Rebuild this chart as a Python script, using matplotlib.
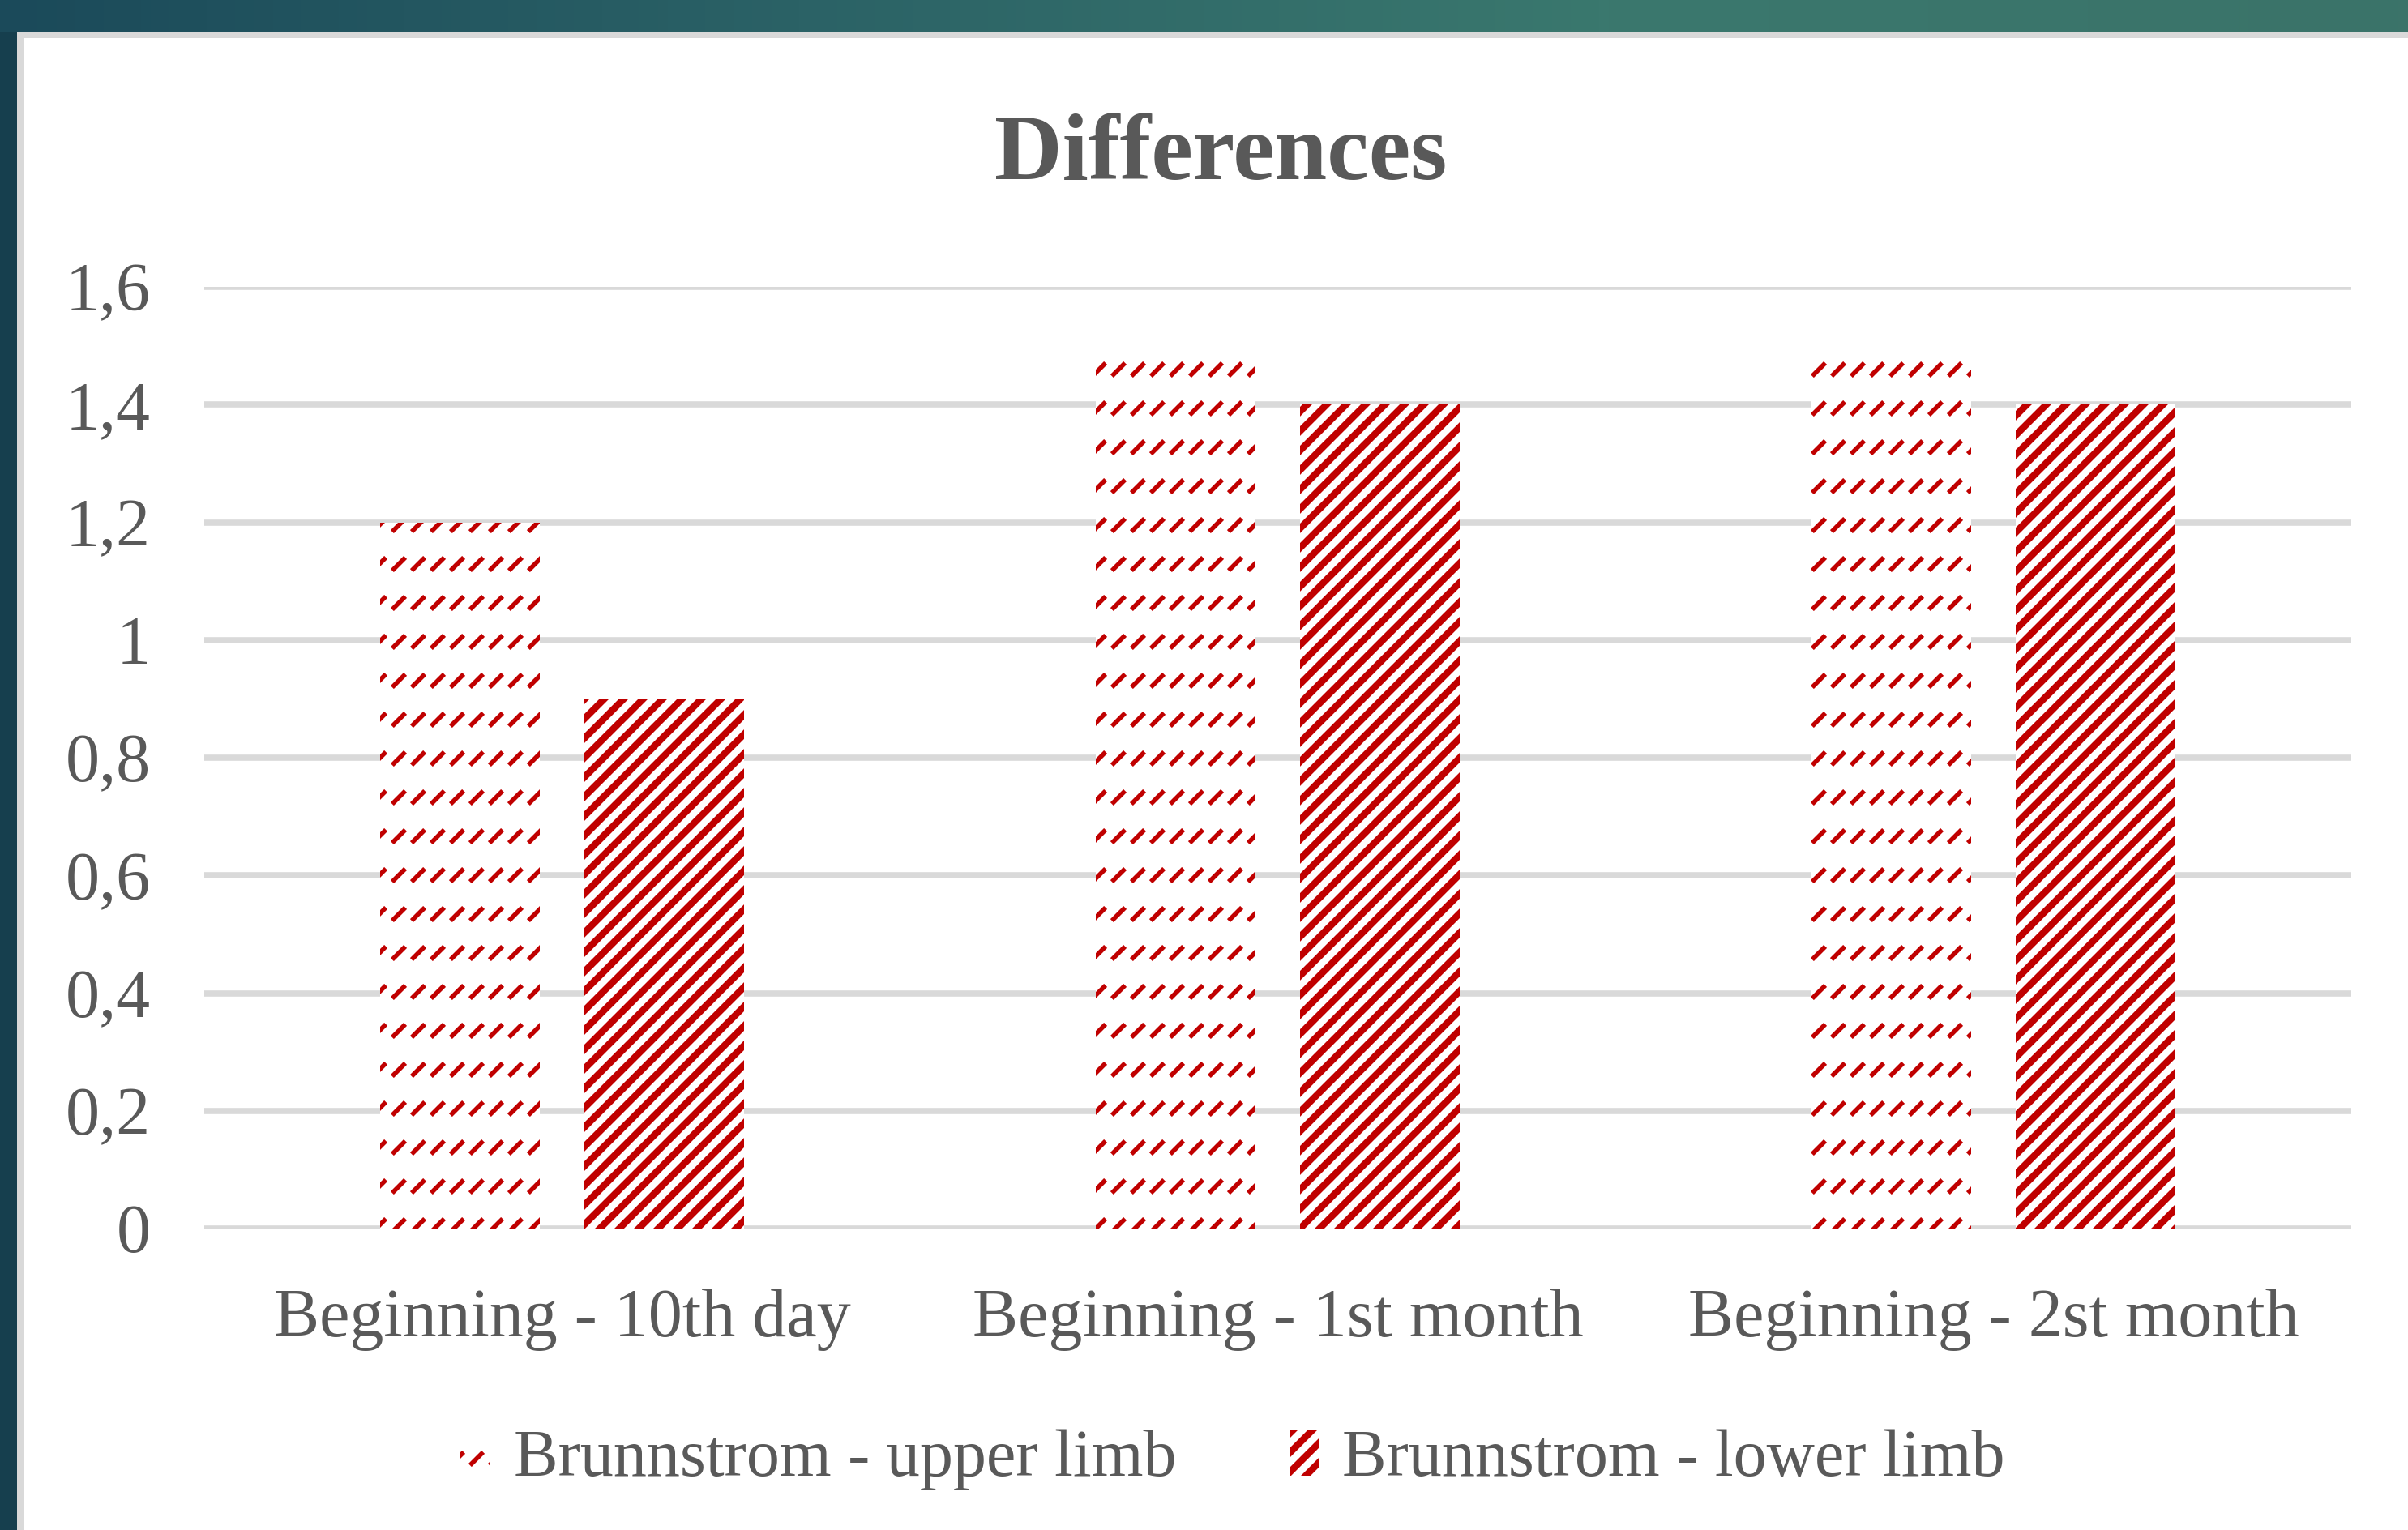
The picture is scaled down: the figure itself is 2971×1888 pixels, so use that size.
import warnings
import numpy as np
import matplotlib
matplotlib.use('Agg')
import matplotlib.pyplot as plt
import matplotlib.hatch as mhatch
from matplotlib.path import Path
from matplotlib.patches import Rectangle
from matplotlib.ticker import FuncFormatter

warnings.filterwarnings('ignore', message='.*hatch must consist.*')

# data
categories = ['Beginning - 10th day', 'Beginning - 1st month', 'Beginning - 2st month']
upper_limb = [1.2, 1.5, 1.5]
lower_limb = [0.9, 1.4, 1.4]
series_names = ['Brunnstrom - upper limb', 'Brunnstrom - lower limb']
yticks = [0, 0.2, 0.4, 0.6, 0.8, 1.0, 1.2, 1.4, 1.6]


# rows of short "/" dashes, like the excel pattern of the upper limb bars
class DashRows(mhatch.HatchPatternBase):
    def __init__(self, hatch, density):
        n = hatch.count('d')
        self.num_rows = 3 * n
        self.num_cols = 6 * n
        self.num_vertices = self.num_rows * self.num_cols * 2

    def set_vertices_and_codes(self, vertices, codes):
        s = 0.085
        k = 0
        for i in range(self.num_rows):
            y = (i + 0.5) / self.num_rows
            for j in range(self.num_cols):
                x = (j + 0.5) / self.num_cols
                vertices[k] = (x - s / 2, y - s / 2)
                vertices[k + 1] = (x + s / 2, y + s / 2)
                codes[k] = Path.MOVETO
                codes[k + 1] = Path.LINETO
                k += 2


mhatch._hatch_types.append(DashRows)

plt.rcParams['font.family'] = ['Liberation Serif', 'DejaVu Serif']
plt.rcParams['hatch.linewidth'] = 4.2
red = '#c00000'
grey_txt = '#595959'
grid_col = '#d9d9d9'

W, H, DPI = 2971, 1888, 144
fig = plt.figure(figsize=(W / DPI, H / DPI), dpi=DPI, facecolor='white')

# frame around the chart (slide background)
top_h = 39 / H
left_w = 21 / W
band = fig.add_axes([0, 1 - top_h, 1, top_h], zorder=-5)
grad = np.linspace(0, 1, 256)[None, :]
cmap = matplotlib.colors.LinearSegmentedColormap.from_list('bg', ['#1b4a5a', '#2b6266', '#3a786e', '#3b7369'])
band.imshow(grad, aspect='auto', cmap=cmap, extent=[0, 1, 0, 1])
band.axis('off')
fig.patches.append(Rectangle((0, 0), left_w, 1 - top_h, transform=fig.transFigure,
                             facecolor='#163f4e', edgecolor='none', zorder=-5))
fig.patches.append(Rectangle((left_w, 1 - top_h - 8 / H), 1, 8 / H, transform=fig.transFigure,
                             facecolor=grid_col, edgecolor='none', zorder=-4))
fig.patches.append(Rectangle((left_w, 0), 8 / W, 1 - top_h, transform=fig.transFigure,
                             facecolor=grid_col, edgecolor='none', zorder=-4))

ax = fig.add_axes([252 / W, 372 / H, (2901 - 252) / W, (1516 - 354) / H])
x = np.arange(len(categories))
w = 0.223
off = 0.143
b1 = ax.bar(x - off, upper_limb, w, facecolor='white', edgecolor=red, linewidth=0,
            hatch='d', label=series_names[0], zorder=2)
b2 = ax.bar(x + off, lower_limb, w, facecolor='white', edgecolor=red, linewidth=0,
            hatch='//', label=series_names[1], zorder=2)
for p in b1:
    if hasattr(p, 'set_hatch_linewidth'):
        p.set_hatch_linewidth(2.8)

ax.set_xlim(-0.5, 2.5)
ax.set_ylim(0, 1.6)
ax.set_yticks(yticks)
ax.yaxis.set_major_formatter(FuncFormatter(lambda v, p: ('%g' % round(v, 1)).replace('.', ',')))
ax.set_xticks(x)
ax.set_xticklabels(categories)
ax.tick_params(axis='both', length=0, labelsize=42, labelcolor=grey_txt)
ax.tick_params(axis='y', pad=33)
ax.tick_params(axis='x', pad=37)
for s in ax.spines.values():
    s.set_visible(False)
ax.yaxis.grid(True, color=grid_col, linewidth=3.8)
ax.set_axisbelow(True)

fig.text(0.507, 0.898, 'Differences', ha='center', va='center', fontsize=58,
         fontweight='bold', color=grey_txt)

leg = fig.legend(loc='center', bbox_to_anchor=(0.512, 0.046), ncol=2, frameon=False,
                 fontsize=41, labelcolor=grey_txt, handlelength=0.45, handleheight=0.7,
                 handletextpad=0.35, columnspacing=1.7)
for h in leg.legend_handles[:1]:
    if hasattr(h, 'set_hatch_linewidth'):
        h.set_hatch_linewidth(2.8)

fig.savefig('out.png', dpi=DPI, facecolor='white')
